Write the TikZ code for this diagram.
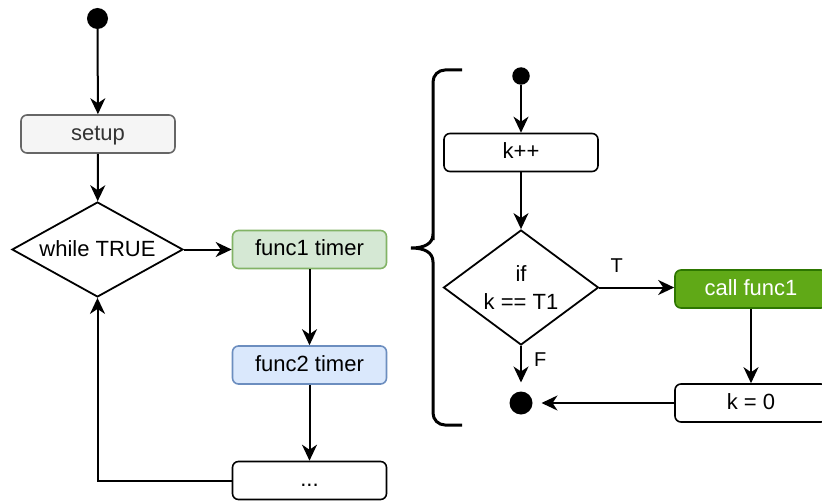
\documentclass[tikz,border=0pt]{standalone}
\usepackage{fontspec}
\setmainfont{Liberation Sans}
\usetikzlibrary{shapes.geometric,arrows.meta}

\definecolor{setupfill}{HTML}{F5F5F5}
\definecolor{setupline}{HTML}{666666}
\definecolor{setuptext}{HTML}{333333}
\definecolor{greenfill}{HTML}{D5E8D4}
\definecolor{greenline}{HTML}{82B366}
\definecolor{bluefill}{HTML}{DAE8FC}
\definecolor{blueline}{HTML}{6C8EBF}
\definecolor{callfill}{HTML}{60A917}
\definecolor{callline}{HTML}{2D7600}

\tikzset{
  box/.style={rectangle, rounded corners=6pt, draw=black, fill=white, line width=1.6pt,
    minimum width=154pt, minimum height=38pt, inner sep=0pt,
    text height=16pt, text depth=4pt,
    font=\fontsize{22}{27}\selectfont},
  cond/.style={diamond, draw=black, fill=white, line width=1.8pt, inner sep=0pt,
    align=center, font=\fontsize{22}{28}\selectfont},
  dot/.style={circle, fill=black, inner sep=0pt},
  flow/.style={-{Stealth[length=16pt,width=15pt,inset=5pt]}, line width=2pt},
  lbl/.style={inner sep=0pt, font=\fontsize{20}{24}\selectfont},
}

\begin{document}
\begin{tikzpicture}[x=1pt,y=-1pt]
\useasboundingbox (0,0) rectangle (822,503);

% main loop
\node[dot, minimum size=21pt] (s1) at (97.5,18.5) {};
\node[box, fill=setupfill, draw=setupline, text=setuptext] (setup) at (98,134) {setup};
\node[cond, minimum width=171pt, minimum height=95pt, aspect=1.8,
  text height=16pt, text depth=3pt] (loop) at (97.5,249.5) {while TRUE};
\node[box, fill=greenfill, draw=greenline] (f1) at (309.5,249.5) {func1 timer};
\node[box, fill=bluefill, draw=blueline] (f2) at (309.5,365) {func2 timer};
\node[box] (more) at (309.5,480.5) {...};

\draw[flow] (s1) -- (setup);
\draw[flow] (setup) -- (loop);
\draw[flow] (loop.east) -- (f1.west);
\draw[flow] (f1) -- (f2);
\draw[flow] (f2) -- (more);
\draw[flow] (more.west) -| (loop.south);

% brace grouping the timer detail
\draw[line width=3pt]
  (462,70) [rounded corners=12pt] -- (433,70) -- (433,228) [sharp corners] -- (433,234)
  .. controls (433,244) and (424,248) .. (411,248)
  .. controls (424,248) and (433,252) .. (433,262)
  [rounded corners=12pt] -- (433,425) -- (462,425);

% timer detail
\node[dot, minimum size=17.5pt] (s2) at (521,76) {};
\node[box] (inc) at (521,152.5) {k++};
\node[cond, minimum width=155pt, minimum height=115pt, aspect=1.35] (test) at (521,287.5) {if\\k == T1};
\node[box, minimum width=152pt, fill=callfill, draw=callline, text=white] (call) at (751,289) {call func1};
\node[box, minimum width=152pt] (reset) at (751,403) {k = 0};
\node[dot, minimum size=23pt, outer sep=9pt] (fin) at (521,403) {};

\draw[flow] (s2) -- (inc);
\draw[flow] (inc) -- (test);
\draw[flow] (test.east) -- node[lbl, pos=0.23, above=14pt] {T} (call.west |- test.east);
\draw[flow] (test.south) -- node[lbl, pos=0.37, right=12pt] {F} (fin);
\draw[flow] (call) -- (reset);
\draw[flow] (reset.west) -- (fin);
\end{tikzpicture}
\end{document}
